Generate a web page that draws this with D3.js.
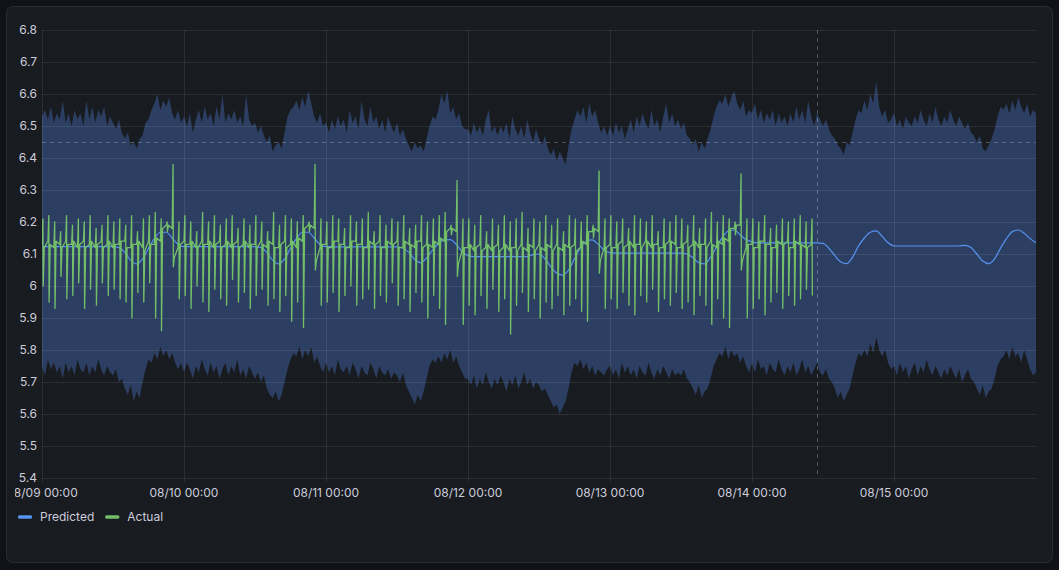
<!DOCTYPE html>
<html>
<head>
<meta charset="utf-8">
<script src="https://cdn.jsdelivr.net/npm/d3@7"></script>
<style>
  body { margin: 0; background: #111217; }
  svg { display: block; font-family: Inter, "Noto Sans", sans-serif; }
</style>
</head>
<body>
<div id="chart"></div>
<script>
// prediction chart: band + predicted + actual

const startTime = "2024-08-09T00:00";
const endTime = "2024-08-16T00:00";
const nowMarker = "2024-08-14T11:00";
const thresholdValue = 6.45;

const xTicks = ["2024-08-09T00:00", "2024-08-10T00:00", "2024-08-11T00:00", "2024-08-12T00:00",
                "2024-08-13T00:00", "2024-08-14T00:00", "2024-08-15T00:00"];
const yTicks = [5.4, 5.5, 5.6, 5.7, 5.8, 5.9, 6.0, 6.1, 6.2, 6.3, 6.4, 6.5, 6.6, 6.7, 6.8];
const seriesNames = ["Predicted", "Actual"];

// upper bound of the band, every 30 min (one row per day)
const bandUpper = [
  6.53,6.55,6.52,6.56,6.51,6.54, 6.52,6.58,6.51,6.54,6.50,6.55, 6.52,6.54,6.50,6.58,6.52,6.56, 6.51,6.55,6.53,6.56,6.50,6.53, 6.51,6.49,6.52,6.48, 6.46,6.48,6.44,6.45,6.43,6.46, 6.47,6.51,6.52,6.55, 6.57,6.60,6.55,6.58,6.56,6.59, 6.54,6.52,6.55,6.51,
  6.53,6.50,6.54,6.48,6.52,6.55, 6.51,6.56,6.52,6.54,6.50,6.56, 6.52,6.60,6.51,6.54,6.52,6.55, 6.51,6.53,6.50,6.60,6.52,6.50, 6.51,6.48,6.50,6.47, 6.45,6.47,6.42,6.44,6.45,6.43, 6.48,6.53,6.55,6.56, 6.58,6.55,6.59,6.56,6.61,6.57, 6.53,6.51,6.54,6.50,
  6.51,6.48,6.52,6.49,6.53,6.50, 6.52,6.48,6.55,6.51,6.53,6.49, 6.58,6.52,6.50,6.56,6.51,6.53, 6.49,6.52,6.48,6.53,6.50,6.48, 6.51,6.47,6.49,6.46, 6.44,6.42,6.45,6.43,6.44,6.42, 6.46,6.50,6.53,6.52, 6.55,6.60,6.57,6.61,6.54,6.56, 6.52,6.54,6.50,6.49,
  6.49,6.47,6.51,6.48,6.50,6.47, 6.52,6.55,6.48,6.50,6.47,6.50, 6.48,6.51,6.46,6.53,6.49,6.47, 6.50,6.46,6.52,6.48,6.45,6.49, 6.46,6.44,6.47,6.43, 6.41,6.43,6.39,6.42,6.40,6.38, 6.44,6.49,6.52,6.55, 6.53,6.56,6.51,6.57,6.53,6.55, 6.51,6.48,6.50,6.47,
  6.50,6.47,6.51,6.48,6.50,6.46, 6.49,6.52,6.48,6.53,6.50,6.54, 6.51,6.49,6.55,6.50,6.52,6.48, 6.53,6.57,6.51,6.54,6.50,6.52, 6.49,6.51,6.47,6.46, 6.44,6.46,6.42,6.45,6.43,6.46, 6.49,6.53,6.56,6.58, 6.57,6.60,6.56,6.59,6.61,6.57, 6.55,6.58,6.53,6.55,
  6.54,6.57,6.52,6.55,6.51,6.54, 6.52,6.55,6.50,6.54,6.51,6.53, 6.50,6.54,6.51,6.56,6.52,6.55, 6.51,6.58,6.53,6.50,6.54,6.52, 6.50,6.52,6.49,6.47, 6.46,6.44,6.43,6.41,6.45,6.44, 6.48,6.52,6.55,6.54, 6.58,6.55,6.60,6.57,6.64,6.56, 6.53,6.55,6.51,6.52,
  6.54,6.50,6.52,6.49,6.53,6.51, 6.50,6.53,6.51,6.55,6.52,6.50, 6.54,6.51,6.56,6.52,6.50,6.53, 6.51,6.55,6.52,6.50,6.53,6.51, 6.49,6.51,6.48,6.47, 6.45,6.47,6.43,6.42,6.44,6.46, 6.49,6.53,6.56,6.55, 6.57,6.54,6.58,6.55,6.59,6.56, 6.54,6.57,6.53,6.55,
  6.54
];

// lower bound of the band, every 30 min
const bandLower = [
  5.75,5.72,5.77,5.74,5.76,5.73,5.75,5.71, 5.76,5.73,5.75,5.72,5.77,5.74,5.73,5.76,5.72,5.75,5.73,5.77,5.74,5.72,5.75,5.73, 5.72,5.74,5.70,5.71, 5.68,5.66,5.69,5.64,5.67,5.65, 5.70,5.74,5.77,5.76, 5.79,5.77,5.81,5.78,5.80,5.77,5.79,5.76, 5.74,5.76,
  5.73,5.76,5.74,5.71,5.75,5.73,5.77,5.74,5.72,5.76,5.73,5.75,5.71,5.74,5.76,5.72,5.75,5.73,5.77,5.72,5.74,5.71,5.75,5.73, 5.71,5.73,5.70,5.72, 5.68,5.66,5.65,5.67,5.64,5.66, 5.70,5.74,5.77,5.79, 5.78,5.81,5.77,5.80,5.78,5.81,5.76,5.78, 5.75,5.73,
  5.76,5.73,5.75,5.72,5.77,5.74,5.73,5.75,5.72,5.76,5.74,5.71,5.75,5.73,5.72,5.76,5.74,5.71,5.75,5.73,5.72,5.74,5.71,5.73, 5.72,5.70,5.73,5.69, 5.67,5.65,5.63,5.66,5.64,5.67, 5.71,5.75,5.77,5.76, 5.78,5.76,5.79,5.77,5.80,5.76,5.78,5.75, 5.73,5.71,
  5.71,5.69,5.72,5.68,5.71,5.69,5.73,5.70,5.68,5.71,5.69,5.72,5.70,5.67,5.71,5.69,5.72,5.68,5.70,5.73,5.69,5.71,5.68,5.70, 5.69,5.67,5.68,5.66, 5.64,5.62,5.63,5.60,5.62,5.64, 5.68,5.73,5.76,5.75, 5.77,5.74,5.76,5.73,5.75,5.72,5.74,5.73, 5.72,5.74,
  5.75,5.72,5.74,5.71,5.76,5.73,5.75,5.72,5.74,5.71,5.75,5.73,5.72,5.76,5.73,5.71,5.74,5.72,5.75,5.73,5.71,5.74,5.72,5.73, 5.72,5.74,5.71,5.70, 5.68,5.66,5.69,5.65,5.67,5.68, 5.71,5.75,5.77,5.79, 5.78,5.81,5.77,5.80,5.78,5.79,5.76,5.78, 5.75,5.73,
  5.76,5.73,5.77,5.74,5.75,5.72,5.76,5.74,5.73,5.77,5.74,5.72,5.75,5.73,5.76,5.72,5.74,5.77,5.73,5.75,5.72,5.74,5.76,5.73, 5.72,5.74,5.71,5.70, 5.68,5.65,5.67,5.64,5.66,5.68, 5.72,5.76,5.79,5.78, 5.80,5.78,5.82,5.79,5.84,5.80,5.78,5.80, 5.76,5.74,
  5.75,5.72,5.76,5.73,5.75,5.71,5.74,5.76,5.72,5.75,5.73,5.77,5.74,5.72,5.75,5.73,5.71,5.74,5.72,5.75, 5.73,5.71,5.74,5.70,5.72,5.74,5.71,5.70, 5.68,5.66,5.69,5.65,5.67,5.68, 5.71,5.75,5.77,5.78, 5.80,5.77,5.81,5.78,5.79,5.76,5.80,5.77, 5.74,5.72,
  5.73
];

// predicted, hourly
const predicted = [
  6.123,6.123,6.123,6.123,6.123,6.123,6.123,6.123,6.123,6.123,6.123,6.123,6.123,6.12,6.105,6.08,6.069,6.085,6.118,6.148,6.168,6.168,6.15,6.13,
  6.123,6.123,6.123,6.123,6.123,6.123,6.123,6.123,6.123,6.123,6.123,6.123,6.123,6.12,6.105,6.08,6.069,6.085,6.118,6.148,6.168,6.168,6.15,6.13,
  6.123,6.123,6.122,6.122,6.122,6.122,6.122,6.122,6.122,6.122,6.122,6.122,6.122,6.118,6.105,6.083,6.073,6.088,6.112,6.132,6.144,6.145,6.13,6.108,
  6.095,6.092,6.092,6.092,6.092,6.092,6.092,6.092,6.092,6.092,6.092,6.098,6.1,6.085,6.06,6.04,6.034,6.05,6.085,6.12,6.14,6.144,6.13,6.112,
  6.104,6.103,6.103,6.103,6.103,6.103,6.103,6.103,6.103,6.103,6.103,6.103,6.103,6.1,6.088,6.073,6.069,6.09,6.122,6.152,6.172,6.175,6.16,6.145,
  6.138,6.135,6.135,6.135,6.135,6.135,6.135,6.135,6.135,6.135,6.135,6.135,6.133,6.118,6.095,6.075,6.07,6.09,6.125,6.15,6.168,6.172,6.155,6.135,
  6.125,6.125,6.125,6.125,6.125,6.125,6.125,6.125,6.125,6.125,6.125,6.125,6.127,6.12,6.1,6.078,6.07,6.085,6.118,6.148,6.17,6.175,6.165,6.148,
  6.135
];

// actual, per hour: level at the hour, spike top, spike bottom, level after the spike
const actBase = [
  6.13,6.14,6.12,6.13,6.14,6.13,6.12,6.14,6.13,6.12,6.14,6.13,6.12,6.13,6.14,6.12,6.13,6.12,6.14,6.13,6.14,6.19,6.18,6.12,
  6.14,6.13,6.12,6.14,6.13,6.12,6.14,6.13,6.12,6.14,6.13,6.12,6.13,6.14,6.12,6.13,6.12,6.14,6.13,6.12,6.14,6.19,6.18,6.12,
  6.13,6.12,6.14,6.13,6.12,6.14,6.13,6.12,6.13,6.14,6.12,6.13,6.14,6.12,6.13,6.12,6.14,6.13,6.12,6.13,6.14,6.18,6.17,6.11,
  6.12,6.11,6.13,6.12,6.11,6.13,6.12,6.11,6.12,6.13,6.11,6.12,6.13,6.11,6.12,6.13,6.11,6.12,6.13,6.12,6.13,6.17,6.17,6.12,
  6.13,6.12,6.14,6.13,6.12,6.13,6.14,6.12,6.13,6.12,6.14,6.13,6.12,6.14,6.13,6.12,6.13,6.14,6.12,6.13,6.14,6.18,6.19,6.12,
  6.13,6.12,6.14,6.13,6.12,6.13,6.14,6.12,6.13,6.12,6.13
];
const actHi = [
  6.21,6.22,6.20,6.17,6.22,6.19,6.21,6.20,6.22,6.18,6.19,6.22,6.20,6.21,6.19,6.22,6.17,6.21,6.22,6.23,6.21,6.20,6.38,6.20,
  6.22,6.20,6.17,6.23,6.20,6.22,6.19,6.21,6.22,6.18,6.21,6.19,6.22,6.20,6.17,6.23,6.19,6.22,6.21,6.20,6.22,6.20,6.38,6.21,
  6.20,6.22,6.21,6.18,6.22,6.20,6.21,6.23,6.17,6.22,6.19,6.21,6.20,6.22,6.18,6.19,6.22,6.20,6.21,6.22,6.23,6.19,6.33,6.21,
  6.21,6.19,6.22,6.17,6.21,6.19,6.22,6.20,6.21,6.23,6.18,6.21,6.20,6.22,6.19,6.21,6.17,6.22,6.21,6.20,6.22,6.19,6.36,6.21,
  6.22,6.20,6.21,6.18,6.22,6.21,6.20,6.22,6.17,6.21,6.20,6.22,6.21,6.19,6.22,6.18,6.21,6.23,6.20,6.22,6.21,6.20,6.35,6.21,
  6.21,6.20,6.22,6.18,6.19,6.21,6.20,6.21,6.22,6.20,6.21
];
const actLo = [
  6.00,5.95,5.93,6.03,5.96,5.97,6.01,5.93,5.99,5.94,6.01,5.97,5.99,5.96,5.95,5.90,5.98,5.95,6.01,5.90,5.86,6.17,6.06,5.96,
  5.97,5.93,6.00,5.95,5.92,5.99,5.96,5.94,6.02,5.95,5.98,5.93,5.97,5.99,5.94,5.96,5.92,5.97,5.89,5.95,5.87,6.17,6.05,5.94,
  5.95,5.98,5.92,5.97,6.00,5.94,5.96,5.99,5.93,5.97,5.95,6.01,5.94,5.96,5.92,5.98,5.95,5.90,5.97,5.93,5.88,6.16,6.03,5.88,
  5.94,5.91,5.97,5.93,5.99,5.92,5.96,5.85,5.94,5.98,5.92,5.96,5.90,5.95,5.93,5.97,5.91,5.94,5.96,5.92,5.89,6.15,6.04,5.93,
  5.96,5.93,5.98,5.94,5.91,5.97,5.95,5.99,5.92,5.96,5.94,5.98,5.93,5.95,5.91,5.97,5.94,5.88,5.96,5.90,5.87,6.16,6.05,5.90,
  5.93,5.96,5.91,5.95,5.98,5.93,5.97,5.94,5.96,5.99,5.97
];
const actMid = [
  6.12,6.13,6.14,6.12,6.13,6.14,6.13,6.12,6.14,6.13,6.12,6.14,6.13,6.14,6.12,6.13,6.14,6.11,6.13,6.15,6.18,6.19,6.09,6.13,
  6.13,6.14,6.12,6.13,6.14,6.13,6.12,6.14,6.13,6.12,6.14,6.13,6.12,6.13,6.14,6.12,6.13,6.12,6.14,6.15,6.18,6.19,6.08,6.13,
  6.12,6.14,6.13,6.12,6.14,6.13,6.12,6.14,6.13,6.12,6.14,6.13,6.12,6.14,6.13,6.14,6.12,6.13,6.14,6.15,6.17,6.18,6.07,6.12,
  6.13,6.12,6.11,6.13,6.12,6.11,6.13,6.12,6.11,6.12,6.13,6.11,6.12,6.13,6.11,6.12,6.13,6.12,6.11,6.14,6.17,6.18,6.08,6.12,
  6.12,6.13,6.12,6.14,6.13,6.12,6.14,6.13,6.12,6.13,6.14,6.12,6.13,6.12,6.14,6.13,6.12,6.13,6.14,6.15,6.18,6.19,6.08,6.13,
  6.12,6.14,6.13,6.12,6.14,6.13,6.12,6.14,6.13,6.12
];

const HOUR = 3600 * 1000;
const parseTime = d3.timeParse("%Y-%m-%dT%H:%M");

function buildSeries() {
    const t0 = +parseTime(startTime);

    const band = bandUpper.map((u, i) => ({ t: new Date(t0 + i * HOUR / 2), hi: u, lo: bandLower[i] }));
    const pred = predicted.map((v, i) => ({ t: new Date(t0 + i * HOUR), v: v }));

    // each hour of the actual series: level, sharp spike up then down, level again
    const actual = [];
    actBase.forEach((b, h) => {
        const th = t0 + h * HOUR;
        actual.push({ t: new Date(th), v: b });
        actual.push({ t: new Date(th + 0.15 * HOUR), v: actHi[h] });
        actual.push({ t: new Date(th + 0.2 * HOUR), v: actLo[h] });
        if (h < actMid.length) actual.push({ t: new Date(th + 0.38 * HOUR), v: actMid[h] });
    });
    return { band, pred, actual };
}

function drawChart() {
    const width = 1059, height = 570;
    const plot = { left: 42, right: 1036, top: 30, bottom: 478 };
    const colors = { predicted: "#5794f2", actual: "#73bf69", band: "#2c3f62", text: "#ccccdc" };
    const gridColor = "rgba(204,204,220,0.11)";

    const data = buildSeries();

    const x = d3.scaleTime()
        .domain([parseTime(startTime), parseTime(endTime)])
        .range([plot.left, plot.right]);
    const y = d3.scaleLinear()
        .domain([yTicks[0], yTicks[yTicks.length - 1]])
        .range([plot.bottom, plot.top]);

    const svg = d3.select("#chart").append("svg")
        .attr("width", width)
        .attr("height", height);

    // panel
    svg.append("rect")
        .attr("x", 6.5).attr("y", 6.5)
        .attr("width", 1046).attr("height", 556)
        .attr("rx", 6)
        .attr("fill", "#181b1f")
        .attr("stroke", "rgba(204,204,220,0.12)");

    const defs = svg.append("defs");
    defs.append("clipPath").attr("id", "plot-clip")
        .append("rect")
        .attr("x", plot.left).attr("y", plot.top)
        .attr("width", plot.right - plot.left).attr("height", plot.bottom - plot.top);
    defs.append("clipPath").attr("id", "label-clip")
        .append("rect")
        .attr("x", 15).attr("y", 0)
        .attr("width", width - 30).attr("height", height);

    const inner = svg.append("g").attr("clip-path", "url(#plot-clip)");

    // band between lower and upper bound
    inner.append("path")
        .datum(data.band)
        .attr("fill", colors.band)
        .attr("d", d3.area()
            .x(d => x(d.t))
            .y0(d => y(d.lo))
            .y1(d => y(d.hi)));

    // grid
    svg.append("g").selectAll("line")
        .data(yTicks)
        .join("line")
        .attr("x1", plot.left).attr("x2", plot.right)
        .attr("y1", d => Math.round(y(d)) + 0.5).attr("y2", d => Math.round(y(d)) + 0.5)
        .attr("stroke", gridColor);

    svg.append("g").selectAll("line")
        .data(xTicks.map(parseTime))
        .join("line")
        .attr("x1", d => Math.round(x(d)) + 0.5).attr("x2", d => Math.round(x(d)) + 0.5)
        .attr("y1", plot.top).attr("y2", plot.bottom + 4)
        .attr("stroke", gridColor);

    // threshold + "now" markers
    svg.append("line")
        .attr("x1", plot.left).attr("x2", plot.right)
        .attr("y1", Math.round(y(thresholdValue)) + 0.5).attr("y2", Math.round(y(thresholdValue)) + 0.5)
        .attr("stroke", "rgba(204,204,220,0.3)")
        .attr("stroke-dasharray", "4,4");

    const nowX = Math.round(x(parseTime(nowMarker))) + 0.5;
    svg.append("line")
        .attr("x1", nowX).attr("x2", nowX)
        .attr("y1", plot.top).attr("y2", plot.bottom)
        .attr("stroke", "rgba(204,204,220,0.35)")
        .attr("stroke-dasharray", "4,4");

    inner.append("path")
        .datum(data.pred)
        .attr("fill", "none")
        .attr("stroke", colors.predicted)
        .attr("stroke-width", 1.2)
        .attr("d", d3.line().curve(d3.curveMonotoneX).x(d => x(d.t)).y(d => y(d.v)));

    inner.append("path")
        .datum(data.actual)
        .attr("fill", "none")
        .attr("stroke", colors.actual)
        .attr("stroke-width", 1.3)
        .attr("stroke-linejoin", "round")
        .attr("d", d3.line().x(d => x(d.t)).y(d => y(d.v)));

    // y tick labels
    svg.append("g").selectAll("text")
        .data(yTicks)
        .join("text")
        .attr("x", 37)
        .attr("y", d => y(d))
        .attr("dy", "0.35em")
        .attr("text-anchor", "end")
        .attr("fill", colors.text)
        .attr("font-size", "12px")
        .text(d => d3.format("~g")(d));

    // x tick labels (first one gets cut by the panel edge)
    svg.append("g").attr("clip-path", "url(#label-clip)")
        .selectAll("text")
        .data(xTicks.map(parseTime))
        .join("text")
        .attr("x", d => x(d))
        .attr("y", 493)
        .attr("dy", "0.35em")
        .attr("text-anchor", "middle")
        .attr("fill", colors.text)
        .attr("font-size", "12px")
        .text(d => d3.timeFormat("%m/%d %H:%M")(d));

    // legend
    const legend = svg.append("g").attr("transform", "translate(18, 517)");
    let lx = 0;
    seriesNames.forEach((name, i) => {
        legend.append("line")
            .attr("x1", lx + 1.5).attr("x2", lx + 12.5)
            .attr("y1", 0).attr("y2", 0)
            .attr("stroke", i === 0 ? colors.predicted : colors.actual)
            .attr("stroke-width", 3.5)
            .attr("stroke-linecap", "round");
        const label = legend.append("text")
            .attr("x", lx + 22)
            .attr("y", 0)
            .attr("dy", "0.35em")
            .attr("fill", colors.text)
            .attr("font-size", "12px")
            .text(name);
        lx += 22 + label.node().getComputedTextLength() + 11;
    });
}

document.addEventListener('DOMContentLoaded', drawChart);
</script>
</body>
</html>
